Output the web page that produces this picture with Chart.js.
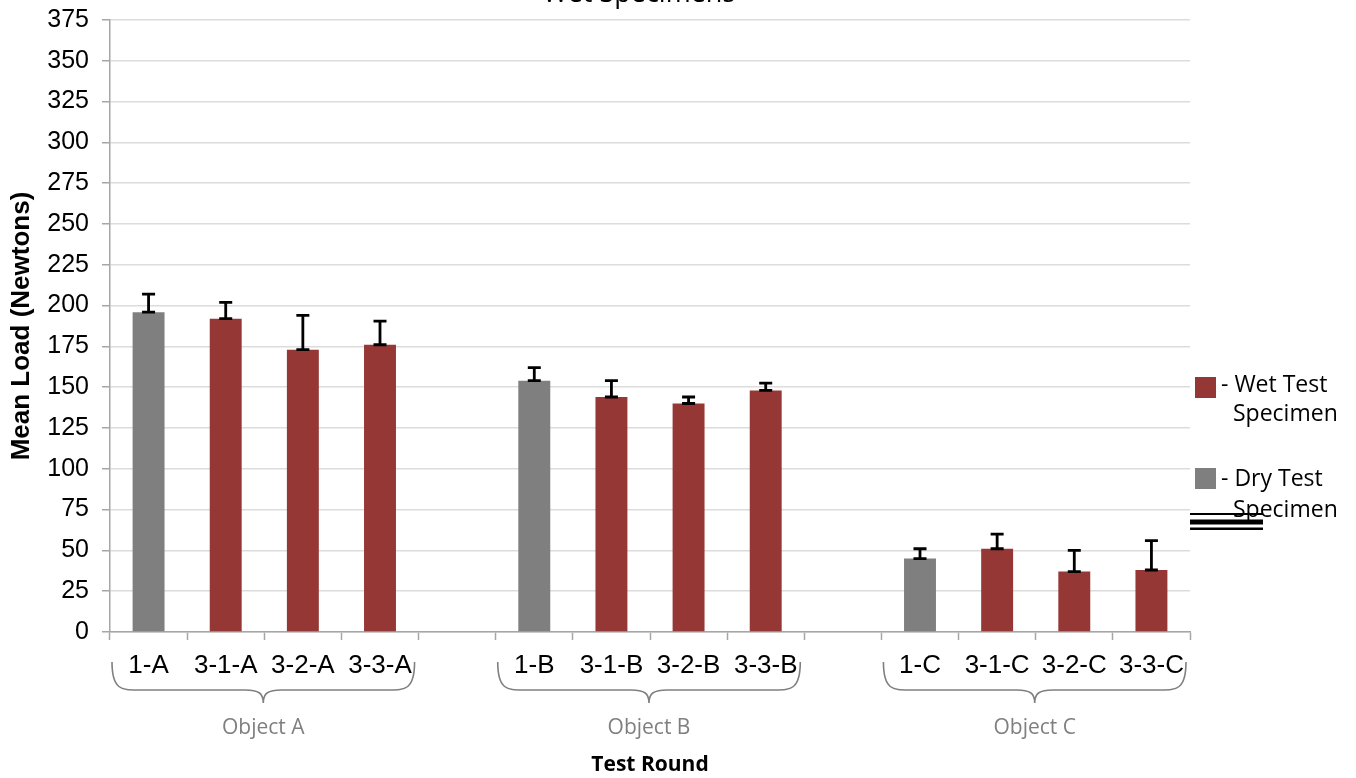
<!DOCTYPE html>
<html>
<head>
<meta charset="UTF-8">
<title>Mean Load - Wet Specimens</title>
<script src="https://cdn.jsdelivr.net/npm/chart.js@4.4.0/dist/chart.umd.min.js"></script>
<style>
  html, body { margin: 0; padding: 0; background: #fff; }
  #wrap { width: 1356px; height: 778px; }
</style>
</head>
<body>
<div id="wrap"><canvas id="loadChart" width="1356" height="778"></canvas></div>
<script>
// test rounds (blank slots separate the objects)
const rounds = ['1-A', '3-1-A', '3-2-A', '3-3-A', '', '1-B', '3-1-B', '3-2-B', '3-3-B', '', '1-C', '3-1-C', '3-2-C', '3-3-C'];
const dryLoad = [196, null, null, null, null, 154, null, null, null, null, 45, null, null, null];
const wetLoad = [null, 192, 173, 176, null, null, 144, 140, 148, null, null, 51, 37, 38];
const loadError = [11, 10, 21, 14.5, null, 8, 10, 4, 4.5, null, 6, 9, 13, 18];
const objects = ['Object A', 'Object B', 'Object C'];
const objectStart = [0, 5, 10];
const objectEnd = [3, 8, 13];
const yTicks = [0, 375, 25];

const wetColor = '#953735';
const dryColor = '#7f7f7f';

// error bars, braces, group names and the odd little legend
const extras = {
    id: 'extras',
    afterDatasetsDraw(chart) {
        const ctx = chart.ctx;
        const xs = chart.scales.x;
        const ys = chart.scales.y;
        ctx.save();
        ctx.strokeStyle = '#000';
        ctx.lineWidth = 2.8;
        rounds.forEach((r, i) => {
            const v = dryLoad[i] != null ? dryLoad[i] : wetLoad[i];
            if (v == null || loadError[i] == null) return;
            const x = xs.getPixelForValue(i);
            const y0 = ys.getPixelForValue(v);
            const y1 = ys.getPixelForValue(v + loadError[i]);
            ctx.beginPath();
            ctx.moveTo(x, y0); ctx.lineTo(x, y1);
            ctx.moveTo(x - 6.5, y0); ctx.lineTo(x + 6.5, y0);
            ctx.moveTo(x - 6.5, y1); ctx.lineTo(x + 6.5, y1);
            ctx.stroke();
        });
        ctx.restore();
    },
    afterDraw(chart) {
        const ctx = chart.ctx;
        const xs = chart.scales.x;
        const half = (xs.getPixelForValue(1) - xs.getPixelForValue(0)) / 2;
        ctx.save();

        // title, mostly cut off at the top edge
        ctx.fillStyle = '#000';
        ctx.font = '27px "Open Sans"';
        ctx.textAlign = 'center';
        ctx.textBaseline = 'alphabetic';
        ctx.fillText('Wet Specimens', 639, 1.5);

        // braces under each object
        ctx.strokeStyle = '#808080';
        ctx.lineWidth = 1.6;
        objects.forEach((name, k) => {
            const l = xs.getPixelForValue(objectStart[k]) - half + 2;
            const r = xs.getPixelForValue(objectEnd[k]) + half - 4;
            const m = (l + r) / 2;
            const top = 662, mid = 690, tip = 703;
            ctx.beginPath();
            ctx.moveTo(l, top);
            ctx.bezierCurveTo(l, mid, l + 10, mid, l + 25, mid);
            ctx.lineTo(m - 18, mid);
            ctx.bezierCurveTo(m - 5, mid, m, mid + 3, m, tip);
            ctx.bezierCurveTo(m, mid + 3, m + 5, mid, m + 18, mid);
            ctx.lineTo(r - 25, mid);
            ctx.bezierCurveTo(r - 10, mid, r, mid, r, top);
            ctx.stroke();

            ctx.fillStyle = '#7f7f7f';
            ctx.font = '21px "Open Sans"';
            ctx.textBaseline = 'middle';
            ctx.fillText(name, m, 728);
        });

        // legend
        ctx.textAlign = 'left';
        ctx.textBaseline = 'alphabetic';
        ctx.font = '23px "Open Sans"';
        ctx.fillStyle = wetColor;
        ctx.fillRect(1195, 377, 21, 21);
        ctx.fillStyle = dryColor;
        ctx.fillRect(1195, 468, 21, 21);
        ctx.fillStyle = '#000';
        ctx.fillText('- Wet Test', 1221, 392);
        ctx.fillText('Specimen', 1233, 421);
        ctx.fillText('- Dry Test', 1221, 486);
        ctx.fillText('Specimen', 1233, 517);

        // stray rule lines near the legend
        ctx.fillRect(1190, 513, 73, 2);
        ctx.fillRect(1190, 519.5, 73, 5);
        ctx.fillRect(1190, 527.5, 73, 2.5);
        ctx.restore();
    }
};

new Chart(document.getElementById('loadChart'), {
    type: 'bar',
    data: {
        labels: rounds,
        datasets: [
            { label: 'Dry Test Specimen', data: dryLoad, backgroundColor: dryColor, grouped: false },
            { label: 'Wet Test Specimen', data: wetLoad, backgroundColor: wetColor, grouped: false }
        ]
    },
    options: {
        responsive: false,
        animation: false,
        devicePixelRatio: 1,
        layout: { padding: { top: 20, right: 166, left: 0, bottom: 0 } },
        barPercentage: 0.414,
        categoryPercentage: 1,
        plugins: { legend: { display: false }, title: { display: false }, tooltip: { enabled: false } },
        scales: {
            x: {
                afterFit(s) { s.height = 146; },
                grid: { offset: true, drawOnChartArea: false, drawTicks: true, tickLength: 8, tickColor: '#a6a6a6', tickWidth: 1.5 },
                border: { color: '#a6a6a6', width: 1.5 },
                ticks: { color: '#000', font: { family: 'Liberation Sans', size: 26 }, padding: 10, maxRotation: 0, autoSkip: false },
                title: { display: true, text: 'Test Round', color: '#000', font: { family: 'Open Sans', size: 21, weight: 'bold' }, padding: { top: 0, bottom: 0 } }
            },
            y: {
                min: yTicks[0],
                max: yTicks[1],
                afterFit(s) { s.width = 110; s.paddingTop = 0; s.paddingBottom = 0; },
                ticks: { stepSize: yTicks[2], color: '#000', font: { family: 'Liberation Sans', size: 25 }, padding: 13 },
                grid: { color: '#dcdcdc', lineWidth: 1.5, tickLength: 8, tickColor: '#a6a6a6' },
                border: { color: '#a6a6a6', width: 1.5 },
                title: { display: true, text: 'Mean Load (Newtons)', color: '#000', font: { family: 'Liberation Sans', size: 26, weight: 'bold' }, padding: { top: 6, bottom: 0 } }
            }
        }
    },
    plugins: [extras]
});
</script>
</body>
</html>
